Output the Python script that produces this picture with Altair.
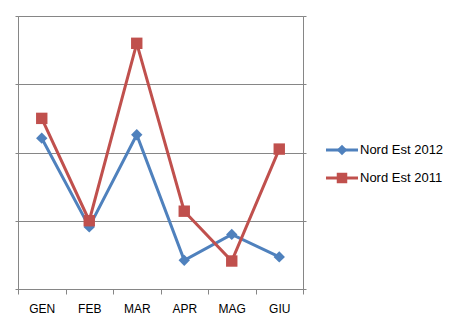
import altair as alt
import pandas as pd

months = ["GEN", "FEB", "MAR", "APR", "MAG", "GIU"]
series_names = ["Nord Est 2012", "Nord Est 2011"]
ne2012 = [2.21, 0.91, 2.26, 0.42, 0.80, 0.47]
ne2011 = [2.50, 1.00, 3.60, 1.14, 0.41, 2.05]
colors = ["#4F81BD", "#C0504D"]
shapes = ["diamond", "square"]

rows = []
for name, vals in zip(series_names, [ne2012, ne2011]):
    for i, (m, v) in enumerate(zip(months, vals)):
        rows.append({"month": m, "idx": i, "value": v, "series": name})
df = pd.DataFrame(rows)
legend_df = pd.DataFrame({"series": series_names})

grid = "#868686"
font = "Liberation Sans"

color = alt.Color("series:N", scale=alt.Scale(domain=series_names, range=colors), legend=None)
shape = alt.Shape("series:N", scale=alt.Scale(domain=series_names, range=shapes), legend=None)

x = alt.X("month:N", sort=months, title=None,
          scale=alt.Scale(type="band", paddingInner=0, paddingOuter=0),
          axis=alt.Axis(tickBand="extent", tickSize=5, tickColor=grid, domainColor=grid,
                        labelAngle=0, labelFont=font, labelFontSize=12, labelColor="#000000",
                        labelPadding=9, grid=False))
y = alt.Y("value:Q", title=None, scale=alt.Scale(domain=[0, 4], nice=False),
          axis=alt.Axis(values=[0, 1, 2, 3, 4], labels=False, tickSize=3, tickColor=grid,
                        domainColor=grid, grid=True, gridColor=grid, gridWidth=1))

base = alt.Chart(df)
lines = base.mark_line(strokeWidth=3).encode(x=x, y=y, color=color, detail="series:N",
                                              order=alt.Order("idx:Q"))
points = base.mark_point(filled=True, opacity=1, size=130).encode(x=x, y=y, color=color, shape=shape)

ly = alt.Y("series:N", axis=None,
           scale=alt.Scale(type="point", domain=series_names, range=[134, 162], padding=0))
lbase = alt.Chart(legend_df)
lrule = lbase.mark_rule(strokeWidth=3).encode(x=alt.value(308), x2=alt.value(340), y=ly, color=color)
lpoint = lbase.mark_point(filled=True, opacity=1, size=110).encode(x=alt.value(324), y=ly, color=color, shape=shape)
ltext = lbase.mark_text(align="left", baseline="middle", font=font, fontSize=13, color="#000000").encode(
    x=alt.value(342), y=ly, text="series:N")

chart = alt.layer(lines, points, lrule, lpoint, ltext).resolve_scale(y="independent").properties(
    width=285, height=273,
    autosize=alt.AutoSizeParams(type="none"),
    padding={"left": 18, "top": 16, "right": 147, "bottom": 40},
    background="white",
).configure_view(stroke=None)

chart.save("out.html", embed_options={"renderer": "svg", "actions": False})
